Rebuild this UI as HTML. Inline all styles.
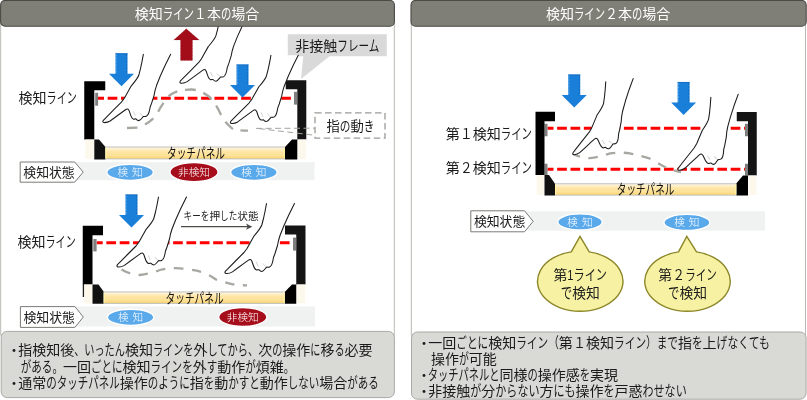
<!DOCTYPE html>
<html lang="ja"><head><meta charset="utf-8"><title>検知ライン</title>
<style>html,body{margin:0;padding:0;background:#fff;}svg{display:block;will-change:transform;}text{font-family:"Liberation Sans", "Noto Sans CJK JP", sans-serif;}</style>
</head><body>
<svg width="807" height="400" viewBox="0 0 807 400">
<defs><linearGradient id="tp" x1="0" y1="0" x2="0" y2="1"><stop offset="0" stop-color="#fff6e2"/><stop offset="0.18" stop-color="#ffeec2"/><stop offset="0.4" stop-color="#fee5a2"/><stop offset="0.75" stop-color="#fde198"/><stop offset="1" stop-color="#fcd56c"/></linearGradient></defs>
<rect width="807" height="400" fill="#fff"/>
<rect x="0.7" y="10" width="393.6" height="325" fill="none" stroke="#b9b9b4" stroke-width="1"/>
<rect x="411.3" y="10" width="394.2" height="325" fill="none" stroke="#b9b9b4" stroke-width="1"/>
<path d="M287.8,34.3 H386.8 V56.2 H329.5 L301,79 L303.3,56.2 H287.8 Z" fill="#d9d9d9"/>
<text y="50.78" font-size="14" fill="#1a1a1a"><tspan x="295.30">非接触</tspan><tspan x="337.30" font-size="14.84" textLength="42.20" lengthAdjust="spacingAndGlyphs">フレーム</tspan></text>
<line x1="98" y1="98.2" x2="291" y2="98.2" stroke="#ff0000" stroke-width="3" stroke-dasharray="9.7 3.65" stroke-dashoffset="3.7"/>
<rect x="95.2" y="92.8" width="2.9" height="12.9" fill="#7f7f7f"/>
<rect x="294" y="91.8" width="3" height="12.8" fill="#7f7f7f"/>
<path d="M84.25,81.25 H105.25 V90.25 H94.3 V139.5 H84.25 Z" fill="#000"/>
<rect x="85.45" y="139.5" width="8.849999999999998" height="19.400000000000006" fill="#fcf8ec"/>
<path d="M94.3,139.5 H99 L105.5,147 V159.4 H94.3 Z" fill="#111"/>
<path d="M285.75,80.2 H306.3 V139.5 H297.3 V89.2 H285.75 Z" fill="#141414"/>
<rect x="297.8" y="139.5" width="8.2" height="19.400000000000006" fill="#fcf8ec"/>
<path d="M297.3,139.5 H292 L285,147 V159.4 H297.3 Z" fill="#000"/>
<rect x="105.5" y="146.5" width="179.5" height="12.899999999999983" fill="#c4c4c0"/>
<rect x="105.5" y="147.60000000000002" width="179.5" height="10.699999999999983" fill="url(#tp)"/>
<rect x="105.5" y="147.60000000000002" width="1.2" height="10.699999999999983" fill="#fff6a0" opacity="0.8"/>
<rect x="283.8" y="147.60000000000002" width="1.2" height="10.699999999999983" fill="#fff6a0" opacity="0.8"/>
<text y="157.63" font-size="13.33" fill="#111"><tspan x="167.00" font-size="14.13" textLength="58.00" lengthAdjust="spacingAndGlyphs">タッチパネル</tspan></text>
<path d="M256,128.4 L315,128.2 M259,128.6 L315,135.3" fill="none" stroke="#a3a39f" stroke-width="1" stroke-dasharray="6 3.5"/>
<rect x="315" y="112.9" width="70" height="25.2" fill="#fff" stroke="#9a9a96" stroke-width="1.3" stroke-dasharray="6.5 3.5"/>
<text y="130.73" font-size="13.33" fill="#1a1a1a"><tspan x="326.50">指</tspan><tspan x="339.83" font-size="14.13" textLength="10.67" lengthAdjust="spacingAndGlyphs">の</tspan><tspan x="350.50">動</tspan><tspan x="363.83" font-size="14.13" textLength="10.67" lengthAdjust="spacingAndGlyphs">き</tspan></text>
<path d="M127,128 L138,127.6 Q150,123.5 157,114 Q163,102 170,95 Q178,89.3 192,89.5 Q204,91 212,99.5 Q217,106 221.5,116 Q226,124 233.5,129.5 Q240,130.5 248,130.7" fill="none" stroke="#a8a8a2" stroke-width="2.3" stroke-dasharray="10.5 8" stroke-dashoffset="0"/>
<path d="M115.5,53.25 H127.5 V73.75 H134.0 L121.5,86.25 L109.0,73.75 H115.5 Z" fill="#1a7fd9"/>
<path d="M126.6,54.25 V73.75" stroke="#0e5cab" stroke-opacity="0.75" stroke-width="0.8" stroke-dasharray="2 1.3" fill="none"/>
<path d="M116.4,54.25 V73.75" stroke="#62aef0" stroke-opacity="0.8" stroke-width="0.8" stroke-dasharray="2 1.3" fill="none"/>
<path d="M115.5,53.65 H127.5" stroke="#1567b8" stroke-opacity="0.8" stroke-width="0.8" fill="none"/>
<path d="M236.5,64.5 H248.5 V85.0 H255.0 L242.5,97.5 L230.0,85.0 H236.5 Z" fill="#1a7fd9"/>
<path d="M247.6,65.5 V85.0" stroke="#0e5cab" stroke-opacity="0.75" stroke-width="0.8" stroke-dasharray="2 1.3" fill="none"/>
<path d="M237.4,65.5 V85.0" stroke="#62aef0" stroke-opacity="0.8" stroke-width="0.8" stroke-dasharray="2 1.3" fill="none"/>
<path d="M236.5,64.9 H248.5" stroke="#1567b8" stroke-opacity="0.8" stroke-width="0.8" fill="none"/>
<path d="M186.25,28.75 L199.25,40 H192.5 V60.5 H180.5 V40 H173.75 Z" fill="#a30d1a" stroke="#7c0a14" stroke-opacity="0.45" stroke-width="0.5" stroke-dasharray="2 1.2"/>
<g transform="translate(102.4,122.1) rotate(0) scale(0.975) translate(-116.5,-266.5)"><path d="M158.5,197 L157,205 L155.5,212 L153.8,218.5 C152.5,222 149,226 146,229.5 L139,242 L136,246 L128,254 L120.5,261.6 L117.7,264.4 C116.5,265.7 116.7,266.9 118.3,267 C120.3,267.1 122.6,266.5 124.4,265.4 L130,261.3 L137,256.1 L140.5,253.6 C142,252.5 143,252.8 144,255 L145,258 C145.8,260.5 147,263 148.5,263.5 C149.5,263.6 150,263 150.8,263.2 C151.5,264 152.8,265 154,265 C155.5,264.8 157,262.5 158.5,260.7 C159.5,260.5 160.5,261 161.5,260.5 C163.5,259.5 164.3,257 164.8,254.5 L165.5,251 L167,247 L169.5,239 L170.5,234 L172,229 L176,219 L181,208 L186.5,197" fill="#fff" stroke="#1c1c1c" stroke-width="1.08" stroke-linejoin="round" stroke-linecap="round"/><path d="M148.3,255.5 L150.3,260 M154.8,257 L157.6,260" fill="none" stroke="#bbb" stroke-width="0.7"/><path d="M119.5,263.3 L120.6,264.6" fill="none" stroke="#ccc" stroke-width="0.6"/></g>
<g transform="translate(179.5,82.7) rotate(0) scale(0.975) translate(-116.5,-266.5)"><path d="M166.1,157 L158.5,197 L157,205 L155.5,212 L153.8,218.5 C152.5,222 149,226 146,229.5 L139,242 L136,246 L128,254 L120.5,261.6 L117.7,264.4 C116.5,265.7 116.7,266.9 118.3,267 C120.3,267.1 122.6,266.5 124.4,265.4 L130,261.3 L137,256.1 L140.5,253.6 C142,252.5 143,252.8 144,255 L145,258 C145.8,260.5 147,263 148.5,263.5 C149.5,263.6 150,263 150.8,263.2 C151.5,264 152.8,265 154,265 C155.5,264.8 157,262.5 158.5,260.7 C159.5,260.5 160.5,261 161.5,260.5 C163.5,259.5 164.3,257 164.8,254.5 L165.5,251 L167,247 L169.5,239 L170.5,234 L172,229 L176,219 L181,208 L186.5,197 L206.5,157" fill="#fff" stroke="#1c1c1c" stroke-width="1.08" stroke-linejoin="round" stroke-linecap="round"/><path d="M148.3,255.5 L150.3,260 M154.8,257 L157.6,260" fill="none" stroke="#bbb" stroke-width="0.7"/><path d="M119.5,263.3 L120.6,264.6" fill="none" stroke="#ccc" stroke-width="0.6"/></g>
<g transform="translate(230,123) rotate(0) scale(0.975) translate(-116.5,-266.5)"><path d="M158.5,197 L157,205 L155.5,212 L153.8,218.5 C152.5,222 149,226 146,229.5 L139,242 L136,246 L128,254 L120.5,261.6 L117.7,264.4 C116.5,265.7 116.7,266.9 118.3,267 C120.3,267.1 122.6,266.5 124.4,265.4 L130,261.3 L137,256.1 L140.5,253.6 C142,252.5 143,252.8 144,255 L145,258 C145.8,260.5 147,263 148.5,263.5 C149.5,263.6 150,263 150.8,263.2 C151.5,264 152.8,265 154,265 C155.5,264.8 157,262.5 158.5,260.7 C159.5,260.5 160.5,261 161.5,260.5 C163.5,259.5 164.3,257 164.8,254.5 L165.5,251 L167,247 L169.5,239 L170.5,234 L172,229 L176,219 L181,208 L186.5,197" fill="#fff" stroke="#1c1c1c" stroke-width="1.08" stroke-linejoin="round" stroke-linecap="round"/><path d="M148.3,255.5 L150.3,260 M154.8,257 L157.6,260" fill="none" stroke="#bbb" stroke-width="0.7"/><path d="M119.5,263.3 L120.6,264.6" fill="none" stroke="#ccc" stroke-width="0.6"/></g>
<text y="102.68" font-size="14" fill="#1a1a1a"><tspan x="18.60">検知</tspan><tspan x="46.60" font-size="14.84" textLength="30.30" lengthAdjust="spacingAndGlyphs">ライン</tspan></text>
<rect x="20" y="162.2" width="294.5" height="18.0" fill="#f0f1f1"/>
<path d="M20.2,162 H74.7 L83.2,172.1 L74.7,182.2 H20.2 Z" fill="#fff" stroke="#7a7a76" stroke-width="1"/>
<text y="176.85" font-size="12.85" fill="#1a1a1a"><tspan x="23.30">検知状態</tspan></text>
<ellipse cx="130.1" cy="172.3" rx="23.3" ry="8.1" fill="#5aa9ea" stroke="#fff" stroke-width="1.4"/>
<text x="130.1" y="176.20" font-size="10.67" font-weight="300" fill="#fff" text-anchor="middle" word-spacing="1">検 知</text>
<ellipse cx="194" cy="172.1" rx="24.1" ry="9.6" fill="#a50e1a" stroke="#fff" stroke-width="1.4"/>
<text x="194" y="176.00" font-size="10.67" font-weight="300" fill="#fff" text-anchor="middle" word-spacing="1">非検知</text>
<ellipse cx="253.9" cy="172.3" rx="23.3" ry="8.1" fill="#5aa9ea" stroke="#fff" stroke-width="1.4"/>
<text x="253.9" y="176.20" font-size="10.67" font-weight="300" fill="#fff" text-anchor="middle" word-spacing="1">検 知</text>
<line x1="96.7" y1="242.8" x2="293.5" y2="242.8" stroke="#ff0000" stroke-width="3" stroke-dasharray="9.7 3.65" stroke-dashoffset="3.7"/>
<rect x="93.3" y="239" width="3.3" height="12.4" fill="#7f7f7f"/>
<rect x="293" y="237.6" width="3" height="13" fill="#7f7f7f"/>
<path d="M82.75,225.8 H103 V235.25 H92.5 V284.5 H82.75 Z" fill="#000"/>
<rect x="83.95" y="284.5" width="8.55" height="18.75" fill="#fcf8ec"/>
<path d="M92.5,284.5 H98.5 L103.75,291.75 V303.75 H92.5 Z" fill="#111"/>
<path d="M285,225.5 H305.5 V284.5 H296.25 V234.5 H285 Z" fill="#141414"/>
<rect x="296.75" y="284.5" width="8.45" height="18.75" fill="#fcf8ec"/>
<path d="M296.25,284.5 H292 L284.7,292 V303.75 H296.25 Z" fill="#000"/>
<rect x="103.75" y="291.4" width="180.95" height="12.6" fill="#c4c4c0"/>
<rect x="103.75" y="292.5" width="180.95" height="10.4" fill="url(#tp)"/>
<rect x="103.75" y="292.5" width="1.2" height="10.4" fill="#fff6a0" opacity="0.8"/>
<rect x="283.5" y="292.5" width="1.2" height="10.4" fill="#fff6a0" opacity="0.8"/>
<rect x="82.75" y="284" width="1.3" height="13" fill="#222"/>
<text y="302.63" font-size="13.33" fill="#111"><tspan x="165.60" font-size="14.13" textLength="58.00" lengthAdjust="spacingAndGlyphs">タッチパネル</tspan></text>
<path d="M121.5,269.5 Q131,275 140,275 Q150,273.5 160,270 Q170,267.5 180,268.3 Q192,269.5 202,272 Q210,275 216,279.5 Q226,283 236,285 L247,285.4" fill="none" stroke="#a8a8a2" stroke-width="2.3" stroke-dasharray="9.5 8.5" stroke-dashoffset="0"/>
<path d="M125.5,194.5 H137.5 V215.0 H144.0 L131.5,227.5 L119.0,215.0 H125.5 Z" fill="#1a7fd9"/>
<path d="M136.6,195.5 V215.0" stroke="#0e5cab" stroke-opacity="0.75" stroke-width="0.8" stroke-dasharray="2 1.3" fill="none"/>
<path d="M126.4,195.5 V215.0" stroke="#62aef0" stroke-opacity="0.8" stroke-width="0.8" stroke-dasharray="2 1.3" fill="none"/>
<path d="M125.5,194.9 H137.5" stroke="#1567b8" stroke-opacity="0.8" stroke-width="0.8" fill="none"/>
<g transform="translate(116.5,266.5) rotate(0) scale(1.0) translate(-116.5,-266.5)"><path d="M158.5,197 L157,205 L155.5,212 L153.8,218.5 C152.5,222 149,226 146,229.5 L139,242 L136,246 L128,254 L120.5,261.6 L117.7,264.4 C116.5,265.7 116.7,266.9 118.3,267 C120.3,267.1 122.6,266.5 124.4,265.4 L130,261.3 L137,256.1 L140.5,253.6 C142,252.5 143,252.8 144,255 L145,258 C145.8,260.5 147,263 148.5,263.5 C149.5,263.6 150,263 150.8,263.2 C151.5,264 152.8,265 154,265 C155.5,264.8 157,262.5 158.5,260.7 C159.5,260.5 160.5,261 161.5,260.5 C163.5,259.5 164.3,257 164.8,254.5 L165.5,251 L167,247 L169.5,239 L170.5,234 L172,229 L176,219 L181,208 L186.5,197" fill="#fff" stroke="#1c1c1c" stroke-width="1.08" stroke-linejoin="round" stroke-linecap="round"/><path d="M148.3,255.5 L150.3,260 M154.8,257 L157.6,260" fill="none" stroke="#bbb" stroke-width="0.7"/><path d="M119.5,263.3 L120.6,264.6" fill="none" stroke="#ccc" stroke-width="0.6"/></g>
<g transform="translate(224.5,273) rotate(0) scale(1.0) translate(-116.5,-266.5)"><path d="M158.5,197 L157,205 L155.5,212 L153.8,218.5 C152.5,222 149,226 146,229.5 L139,242 L136,246 L128,254 L120.5,261.6 L117.7,264.4 C116.5,265.7 116.7,266.9 118.3,267 C120.3,267.1 122.6,266.5 124.4,265.4 L130,261.3 L137,256.1 L140.5,253.6 C142,252.5 143,252.8 144,255 L145,258 C145.8,260.5 147,263 148.5,263.5 C149.5,263.6 150,263 150.8,263.2 C151.5,264 152.8,265 154,265 C155.5,264.8 157,262.5 158.5,260.7 C159.5,260.5 160.5,261 161.5,260.5 C163.5,259.5 164.3,257 164.8,254.5 L165.5,251 L167,247 L169.5,239 L170.5,234 L172,229 L176,219 L181,208 L186.5,197" fill="#fff" stroke="#1c1c1c" stroke-width="1.08" stroke-linejoin="round" stroke-linecap="round"/><path d="M148.3,255.5 L150.3,260 M154.8,257 L157.6,260" fill="none" stroke="#bbb" stroke-width="0.7"/><path d="M119.5,263.3 L120.6,264.6" fill="none" stroke="#ccc" stroke-width="0.6"/></g>
<text y="220.15" font-size="10.67" fill="#222"><tspan x="183.60" font-size="11.31" textLength="25.79" lengthAdjust="spacingAndGlyphs">キーを</tspan><tspan x="209.39">押</tspan><tspan x="220.06" font-size="11.31" textLength="17.20" lengthAdjust="spacingAndGlyphs">した</tspan><tspan x="237.26">状態</tspan></text>
<path d="M181,226.7 H248" stroke="#4d4b47" stroke-width="1.3" fill="none"/>
<path d="M252.3,226.7 L246,223.6 L247.6,226.7 L246,229.8 Z" fill="#4d4b47"/>
<text y="247.48" font-size="14" fill="#1a1a1a"><tspan x="17.50">検知</tspan><tspan x="45.50" font-size="14.84" textLength="30.20" lengthAdjust="spacingAndGlyphs">ライン</tspan></text>
<rect x="20" y="306.5" width="295" height="20.0" fill="#f0f1f1"/>
<path d="M20.4,306.6 H74.9 L83.3,317.0 L74.9,327.4 H20.4 Z" fill="#fff" stroke="#7a7a76" stroke-width="1"/>
<text y="321.75" font-size="12.85" fill="#1a1a1a"><tspan x="23.50">検知状態</tspan></text>
<ellipse cx="130.6" cy="317.3" rx="23.2" ry="8.1" fill="#5aa9ea" stroke="#fff" stroke-width="1.4"/>
<text x="130.6" y="321.20" font-size="10.67" font-weight="300" fill="#fff" text-anchor="middle" word-spacing="1">検 知</text>
<ellipse cx="242.75" cy="317" rx="24.1" ry="9.5" fill="#a50e1a" stroke="#fff" stroke-width="1.4"/>
<text x="242.75" y="320.90" font-size="10.67" font-weight="300" fill="#fff" text-anchor="middle" word-spacing="1">非検知</text>
<rect x="1.2" y="331.4" width="393.2" height="66.2" rx="6" ry="6" fill="#d9d9d6" stroke="#a9a9a5" stroke-width="1"/>
<text x="7.10" y="355.08" font-size="14" fill="#1a1a1a">・</text>
<text y="355.08" font-size="14" fill="#1a1a1a"><tspan x="18.20">指検知後</tspan><tspan x="74.20" font-size="14.84" textLength="50.71" lengthAdjust="spacingAndGlyphs">、いったん</tspan><tspan x="124.91">検知</tspan><tspan x="152.91" font-size="14.84" textLength="40.56" lengthAdjust="spacingAndGlyphs">ラインを</tspan><tspan x="193.47">外</tspan><tspan x="207.47" font-size="14.84" textLength="50.71" lengthAdjust="spacingAndGlyphs">してから、</tspan><tspan x="258.18">次</tspan><tspan x="272.18" font-size="14.84" textLength="10.14" lengthAdjust="spacingAndGlyphs">の</tspan><tspan x="282.32">操作</tspan><tspan x="310.32" font-size="14.84" textLength="10.14" lengthAdjust="spacingAndGlyphs">に</tspan><tspan x="320.46">移</tspan><tspan x="334.46" font-size="14.84" textLength="10.14" lengthAdjust="spacingAndGlyphs">る</tspan><tspan x="344.60">必要</tspan></text>
<text y="371.58" font-size="14" fill="#1a1a1a"><tspan x="20.80" font-size="14.84" textLength="42.14" lengthAdjust="spacingAndGlyphs">がある。</tspan><tspan x="62.94">一回</tspan><tspan x="90.94" font-size="14.84" textLength="31.61" lengthAdjust="spacingAndGlyphs">ごとに</tspan><tspan x="122.55">検知</tspan><tspan x="150.55" font-size="14.84" textLength="42.14" lengthAdjust="spacingAndGlyphs">ラインを</tspan><tspan x="192.69">外</tspan><tspan x="206.69" font-size="14.84" textLength="10.54" lengthAdjust="spacingAndGlyphs">す</tspan><tspan x="217.23">動作</tspan><tspan x="245.23" font-size="14.84" textLength="10.54" lengthAdjust="spacingAndGlyphs">が</tspan><tspan x="255.76">煩雑</tspan><tspan x="283.76" font-size="14.84" textLength="10.54" lengthAdjust="spacingAndGlyphs">。</tspan></text>
<text x="7.10" y="388.08" font-size="14" fill="#1a1a1a">・</text>
<text y="388.08" font-size="14" fill="#1a1a1a"><tspan x="18.20">通常</tspan><tspan x="46.20" font-size="14.84" textLength="73.53" lengthAdjust="spacingAndGlyphs">のタッチパネル</tspan><tspan x="119.73">操作</tspan><tspan x="147.73" font-size="14.84" textLength="42.02" lengthAdjust="spacingAndGlyphs">のように</tspan><tspan x="189.75">指</tspan><tspan x="203.75" font-size="14.84" textLength="10.50" lengthAdjust="spacingAndGlyphs">を</tspan><tspan x="214.26">動</tspan><tspan x="228.26" font-size="14.84" textLength="31.51" lengthAdjust="spacingAndGlyphs">かすと</tspan><tspan x="259.77">動作</tspan><tspan x="287.77" font-size="14.84" textLength="31.51" lengthAdjust="spacingAndGlyphs">しない</tspan><tspan x="319.29">場合</tspan><tspan x="347.29" font-size="14.84" textLength="31.51" lengthAdjust="spacingAndGlyphs">がある</tspan></text>
<line x1="547.5" y1="128.25" x2="745" y2="128.25" stroke="#ff0000" stroke-width="3" stroke-dasharray="9.7 3.65" stroke-dashoffset="3.7"/>
<line x1="547.5" y1="169.3" x2="745" y2="169.3" stroke="#ff0000" stroke-width="3" stroke-dasharray="9.7 3.65" stroke-dashoffset="3.7"/>
<rect x="544.5" y="123.75" width="3" height="12.5" fill="#7f7f7f"/>
<rect x="544.5" y="163.75" width="3" height="11.3" fill="#7f7f7f"/>
<rect x="745" y="123.75" width="3" height="12.5" fill="#7f7f7f"/>
<rect x="745" y="163.75" width="3" height="11.7" fill="#7f7f7f"/>
<path d="M535.5,111.75 H555 V121.25 H544.5 V175 H535.5 Z" fill="#000"/>
<rect x="536.7" y="175" width="7.8" height="20.0" fill="#fcf8ec"/>
<path d="M544.5,175 H549 L555,183.75 V195.5 H544.5 Z" fill="#111"/>
<path d="M736.75,112 H756.75 V175.5 H748 V121.25 H736.75 Z" fill="#141414"/>
<rect x="748.5" y="175.5" width="7.95" height="19.5" fill="#fcf8ec"/>
<path d="M748,175.5 H743 L736.25,183.5 V195.5 H748 Z" fill="#000"/>
<rect x="555" y="183.2" width="181.25" height="12.500000000000005" fill="#c4c4c0"/>
<rect x="555" y="184.3" width="181.25" height="10.300000000000006" fill="url(#tp)"/>
<rect x="555" y="184.3" width="1.2" height="10.300000000000006" fill="#fff6a0" opacity="0.8"/>
<rect x="735.05" y="184.3" width="1.2" height="10.300000000000006" fill="#fff6a0" opacity="0.8"/>
<text y="194.33" font-size="13.33" fill="#111"><tspan x="616.85" font-size="14.13" textLength="57.50" lengthAdjust="spacingAndGlyphs">タッチパネル</tspan></text>
<path d="M573,154 Q580,157.5 590,158.2 Q600,157 610,153.3 Q620,152 630,153.3 Q642,156 650,158.7 Q658,163 665,167 Q672,170.5 681,172" fill="none" stroke="#a8a8a2" stroke-width="2.3" stroke-dasharray="9.5 8.5" stroke-dashoffset="2"/>
<path d="M568.25,74.5 H580.25 V95.0 H586.75 L574.25,107.5 L561.75,95.0 H568.25 Z" fill="#1a7fd9"/>
<path d="M579.35,75.5 V95.0" stroke="#0e5cab" stroke-opacity="0.75" stroke-width="0.8" stroke-dasharray="2 1.3" fill="none"/>
<path d="M569.15,75.5 V95.0" stroke="#62aef0" stroke-opacity="0.8" stroke-width="0.8" stroke-dasharray="2 1.3" fill="none"/>
<path d="M568.25,74.9 H580.25" stroke="#1567b8" stroke-opacity="0.8" stroke-width="0.8" fill="none"/>
<path d="M677.6,82 H689.6 V102.5 H696.1 L683.6,115.0 L671.1,102.5 H677.6 Z" fill="#1a7fd9"/>
<path d="M688.7,83 V102.5" stroke="#0e5cab" stroke-opacity="0.75" stroke-width="0.8" stroke-dasharray="2 1.3" fill="none"/>
<path d="M678.5,83 V102.5" stroke="#62aef0" stroke-opacity="0.8" stroke-width="0.8" stroke-dasharray="2 1.3" fill="none"/>
<path d="M677.6,82.4 H689.6" stroke="#1567b8" stroke-opacity="0.8" stroke-width="0.8" fill="none"/>
<g transform="translate(572.4,154.4) rotate(-6.5) scale(0.985) translate(-116.5,-266.5)"><path d="M158.5,197 L157,205 L155.5,212 L153.8,218.5 C152.5,222 149,226 146,229.5 L139,242 L136,246 L128,254 L120.5,261.6 L117.7,264.4 C116.5,265.7 116.7,266.9 118.3,267 C120.3,267.1 122.6,266.5 124.4,265.4 L130,261.3 L137,256.1 L140.5,253.6 C142,252.5 143,252.8 144,255 L145,258 C145.8,260.5 147,263 148.5,263.5 C149.5,263.6 150,263 150.8,263.2 C151.5,264 152.8,265 154,265 C155.5,264.8 157,262.5 158.5,260.7 C159.5,260.5 160.5,261 161.5,260.5 C163.5,259.5 164.3,257 164.8,254.5 L165.5,251 L167,247 L169.5,239 L170.5,234 L172,229 L176,219 L181,208 L186.5,197" fill="#fff" stroke="#1c1c1c" stroke-width="1.08" stroke-linejoin="round" stroke-linecap="round"/><path d="M148.3,255.5 L150.3,260 M154.8,257 L157.6,260" fill="none" stroke="#bbb" stroke-width="0.7"/><path d="M119.5,263.3 L120.6,264.6" fill="none" stroke="#ccc" stroke-width="0.6"/></g>
<g transform="translate(677.5,170) rotate(-6.5) scale(0.985) translate(-116.5,-266.5)"><path d="M158.5,197 L157,205 L155.5,212 L153.8,218.5 C152.5,222 149,226 146,229.5 L139,242 L136,246 L128,254 L120.5,261.6 L117.7,264.4 C116.5,265.7 116.7,266.9 118.3,267 C120.3,267.1 122.6,266.5 124.4,265.4 L130,261.3 L137,256.1 L140.5,253.6 C142,252.5 143,252.8 144,255 L145,258 C145.8,260.5 147,263 148.5,263.5 C149.5,263.6 150,263 150.8,263.2 C151.5,264 152.8,265 154,265 C155.5,264.8 157,262.5 158.5,260.7 C159.5,260.5 160.5,261 161.5,260.5 C163.5,259.5 164.3,257 164.8,254.5 L165.5,251 L167,247 L169.5,239 L170.5,234 L172,229 L176,219 L181,208 L186.5,197" fill="#fff" stroke="#1c1c1c" stroke-width="1.08" stroke-linejoin="round" stroke-linecap="round"/><path d="M148.3,255.5 L150.3,260 M154.8,257 L157.6,260" fill="none" stroke="#bbb" stroke-width="0.7"/><path d="M119.5,263.3 L120.6,264.6" fill="none" stroke="#ccc" stroke-width="0.6"/></g>
<text y="139.18" font-size="14" fill="#1a1a1a"><tspan x="445.80">第</tspan><tspan x="460.00" textLength="12.60" lengthAdjust="spacingAndGlyphs">１</tspan><tspan x="472.80">検知</tspan><tspan x="500.80" font-size="14.84" textLength="31.20" lengthAdjust="spacingAndGlyphs">ライン</tspan></text>
<text y="173.18" font-size="14" fill="#1a1a1a"><tspan x="445.80">第</tspan><tspan x="460.00" textLength="12.60" lengthAdjust="spacingAndGlyphs">２</tspan><tspan x="472.80">検知</tspan><tspan x="500.80" font-size="14.84" textLength="31.20" lengthAdjust="spacingAndGlyphs">ライン</tspan></text>
<rect x="470.5" y="211.3" width="294.5" height="19.299999999999983" fill="#f0f1f1"/>
<path d="M470.8,210.8 H524.5 L533.2,221.3 L524.5,231.8 H470.8 Z" fill="#fff" stroke="#7a7a76" stroke-width="1"/>
<text y="226.05" font-size="12.85" fill="#1a1a1a"><tspan x="473.90">検知状態</tspan></text>
<ellipse cx="580" cy="221.9" rx="22.3" ry="8.0" fill="#5aa9ea" stroke="#fff" stroke-width="1.4"/>
<text x="580" y="225.80" font-size="10.67" font-weight="300" fill="#fff" text-anchor="middle" word-spacing="1">検 知</text>
<ellipse cx="686.9" cy="222.4" rx="23.0" ry="8.0" fill="#5aa9ea" stroke="#fff" stroke-width="1.4"/>
<text x="686.9" y="226.30" font-size="10.67" font-weight="300" fill="#fff" text-anchor="middle" word-spacing="1">検 知</text>
<path d="M571.25,251.92 L580,236.3 L589.25,251.92 A42.75,30 0 1 1 571.25,251.92 Z" fill="#f6f1a3" stroke="#8c8628" stroke-width="1.4" stroke-linejoin="miter"/>
<text y="280.36" font-size="13.8" fill="#1a1a1a"><tspan x="553.50">第</tspan><tspan x="567.30" font-size="14.63" textLength="39.70" lengthAdjust="spacingAndGlyphs">1ライン</tspan></text>
<text y="297.56" font-size="13.8" fill="#1a1a1a"><tspan x="560.75" font-size="14.63" textLength="11.40" lengthAdjust="spacingAndGlyphs">で</tspan><tspan x="572.15">検知</tspan></text>
<path d="M678.5,251.92 L686.8,236.3 L696.5,251.92 A42.75,30 0 1 1 678.5,251.92 Z" fill="#f6f1a3" stroke="#8c8628" stroke-width="1.4" stroke-linejoin="miter"/>
<text y="280.36" font-size="13.8" fill="#1a1a1a"><tspan x="658.25">第</tspan><tspan x="672.41" textLength="12.42" lengthAdjust="spacingAndGlyphs">２</tspan><tspan x="685.20" font-size="14.63" textLength="31.55" lengthAdjust="spacingAndGlyphs">ライン</tspan></text>
<text y="297.56" font-size="13.8" fill="#1a1a1a"><tspan x="668.00" font-size="14.63" textLength="11.40" lengthAdjust="spacingAndGlyphs">で</tspan><tspan x="679.40">検知</tspan></text>
<rect x="411.5" y="332" width="394.6" height="67.2" rx="6" ry="6" fill="#d9d9d6" stroke="#a9a9a5" stroke-width="1"/>
<text x="417.00" y="347.58" font-size="14" fill="#1a1a1a">・</text>
<text y="347.58" font-size="14" fill="#1a1a1a"><tspan x="428.30">一回</tspan><tspan x="456.30" font-size="14.84" textLength="31.93" lengthAdjust="spacingAndGlyphs">ごとに</tspan><tspan x="488.23">検知</tspan><tspan x="516.23" font-size="14.84" textLength="42.57" lengthAdjust="spacingAndGlyphs">ライン（</tspan><tspan x="558.79">第</tspan><tspan x="573.15" textLength="12.60" lengthAdjust="spacingAndGlyphs">１</tspan><tspan x="586.10">検知</tspan><tspan x="614.10" font-size="14.84" textLength="63.85" lengthAdjust="spacingAndGlyphs">ライン）まで</tspan><tspan x="677.95">指</tspan><tspan x="691.95" font-size="14.84" textLength="10.64" lengthAdjust="spacingAndGlyphs">を</tspan><tspan x="702.59">上</tspan><tspan x="716.59" font-size="14.84" textLength="53.21" lengthAdjust="spacingAndGlyphs">げなくても</tspan></text>
<text y="363.68" font-size="14" fill="#1a1a1a"><tspan x="430.90">操作</tspan><tspan x="458.90" font-size="14.84" textLength="9.90" lengthAdjust="spacingAndGlyphs">が</tspan><tspan x="468.80">可能</tspan></text>
<text x="417.00" y="379.78" font-size="14" fill="#1a1a1a">・</text>
<text y="379.78" font-size="14" fill="#1a1a1a"><tspan x="427.70" font-size="14.84" textLength="71.71" lengthAdjust="spacingAndGlyphs">タッチパネルと</tspan><tspan x="499.41">同様</tspan><tspan x="527.41" font-size="14.84" textLength="10.24" lengthAdjust="spacingAndGlyphs">の</tspan><tspan x="537.66">操作感</tspan><tspan x="579.66" font-size="14.84" textLength="10.24" lengthAdjust="spacingAndGlyphs">を</tspan><tspan x="589.90">実現</tspan></text>
<text x="417.00" y="395.88" font-size="14" fill="#1a1a1a">・</text>
<text y="395.88" font-size="14" fill="#1a1a1a"><tspan x="428.30">非接触</tspan><tspan x="470.30" font-size="14.84" textLength="11.03" lengthAdjust="spacingAndGlyphs">が</tspan><tspan x="481.33">分</tspan><tspan x="495.33" font-size="14.84" textLength="44.13" lengthAdjust="spacingAndGlyphs">からない</tspan><tspan x="539.47">方</tspan><tspan x="553.47" font-size="14.84" textLength="22.07" lengthAdjust="spacingAndGlyphs">にも</tspan><tspan x="575.53">操作</tspan><tspan x="603.53" font-size="14.84" textLength="11.03" lengthAdjust="spacingAndGlyphs">を</tspan><tspan x="614.57">戸惑</tspan><tspan x="642.57" font-size="14.84" textLength="44.13" lengthAdjust="spacingAndGlyphs">わせない</tspan></text>
<rect x="0.6" y="0.4" width="393.8" height="25.8" rx="4.5" ry="4.5" fill="#7f7e77" stroke="#4b4a45" stroke-width="1.1"/>
<rect x="411" y="0.4" width="395.2" height="25.8" rx="4.5" ry="4.5" fill="#7f7e77" stroke="#4b4a45" stroke-width="1.1"/>
<text y="19.08" font-size="14" fill="#fff"><tspan x="134.70">検知</tspan><tspan x="162.70" font-size="14.84" textLength="31.20" lengthAdjust="spacingAndGlyphs">ライン</tspan><tspan x="194.10" textLength="12.60" lengthAdjust="spacingAndGlyphs">１</tspan><tspan x="206.90">本</tspan><tspan x="220.90" font-size="14.84" textLength="10.40" lengthAdjust="spacingAndGlyphs">の</tspan><tspan x="231.30">場合</tspan></text>
<text y="19.08" font-size="14" fill="#fff"><tspan x="546.00">検知</tspan><tspan x="574.00" font-size="14.84" textLength="31.03" lengthAdjust="spacingAndGlyphs">ライン</tspan><tspan x="605.19" textLength="12.60" lengthAdjust="spacingAndGlyphs">２</tspan><tspan x="617.96">本</tspan><tspan x="631.96" font-size="14.84" textLength="10.34" lengthAdjust="spacingAndGlyphs">の</tspan><tspan x="642.30">場合</tspan></text>
</svg></body></html>
